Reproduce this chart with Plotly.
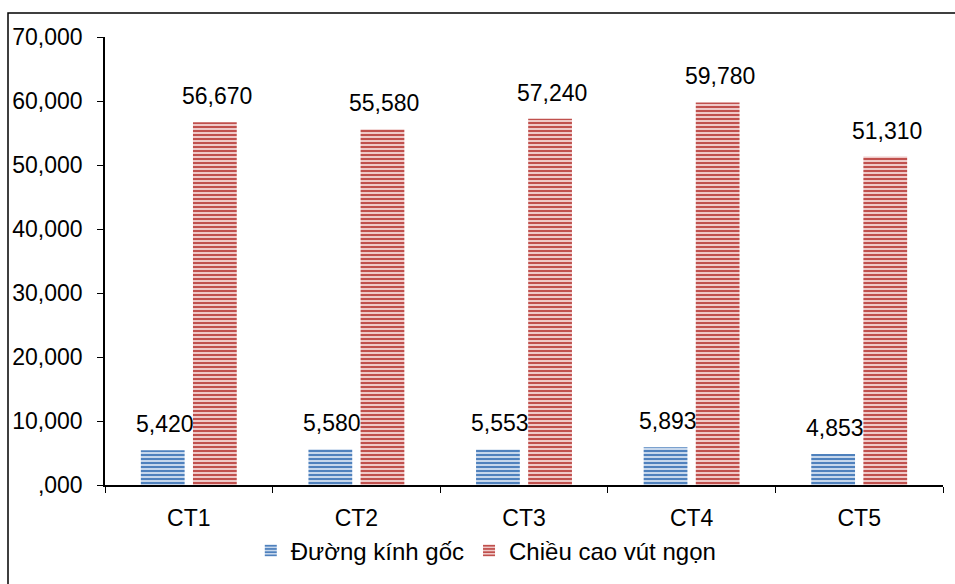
import plotly.graph_objects as go

categories = ["CT1", "CT2", "CT3", "CT4", "CT5"]
duong_kinh_goc = [5.420, 5.580, 5.553, 5.893, 4.853]
chieu_cao_vut_ngon = [56.670, 55.580, 57.240, 59.780, 51.310]
tick_vals = [0, 10, 20, 30, 40, 50, 60, 70]
tick_text = [",000", "10,000", "20,000", "30,000", "40,000", "50,000", "60,000", "70,000"]

FONT = "Liberation Sans, Arial, sans-serif"
FS = 23


def vn(v):
    return f"{v:.3f}".replace(".", ",")


BARGAP = 0.378
GROUPGAP = 0.16

fig = go.Figure()
fig.add_trace(go.Bar(
    name="Đường kính gốc", x=categories, y=duong_kinh_goc,
    marker=dict(color="#b9cde6", line=dict(width=0),
                pattern=dict(shape="-", fgcolor="#4f81bd", bgcolor="#c6d7ec",
                             size=4, solidity=0.5, fillmode="replace")),
))
fig.add_trace(go.Bar(
    name="Chiều cao vút ngọn", x=categories, y=chieu_cao_vut_ngon,
    marker=dict(color="#e6b9b8", line=dict(width=0),
                pattern=dict(shape="-", fgcolor="#c0504d", bgcolor="#efc9c8",
                             size=4, solidity=0.5, fillmode="replace")),
))

# Value labels above each bar
plot_w = 955 - 105 - 12
cat_w = plot_w / len(categories)
offset = cat_w * (1 - BARGAP) / 4
for series, sign in ((duong_kinh_goc, -1), (chieu_cao_vut_ngon, 1)):
    for c, v in zip(categories, series):
        fig.add_annotation(x=c, y=v, text=vn(v), showarrow=False,
                           xshift=sign * offset + 2, yshift=11, yanchor="bottom",
                           font=dict(family=FONT, size=FS, color="black"))

# Outer frame
fig.add_shape(type="rect", xref="paper", yref="paper",
              x0=(8 - 105) / plot_w, x1=(965 - 105) / plot_w,
              y0=-(600 - 485) / 448, y1=(485 - 13) / 448,
              line=dict(color="black", width=1.5), layer="below")

fig.update_layout(
    width=955, height=584,
    margin=dict(l=105, r=12, t=37, b=99, autoexpand=False),
    paper_bgcolor="white", plot_bgcolor="white",
    barmode="group", bargap=BARGAP, bargroupgap=GROUPGAP,
    font=dict(family=FONT, size=FS, color="black"),
    showlegend=True,
    legend=dict(orientation="h", x=0.455, xanchor="center", y=-0.097, yanchor="top",
                font=dict(family=FONT, size=24), itemwidth=30, tracegroupgap=0,
                itemsizing="constant"),
    xaxis=dict(showline=True, linecolor="black", linewidth=1.5, automargin=False,
               ticks="outside", tickson="boundaries", ticklen=6, tickcolor="black",
               tickfont=dict(family=FONT, size=FS), ticklabelstandoff=12),
    yaxis=dict(range=[0, 70], tickvals=tick_vals, ticktext=tick_text, automargin=False,
               showline=True, linecolor="black", linewidth=1.5, showgrid=False,
               zeroline=False, ticks="outside", ticklen=6, tickcolor="black",
               tickfont=dict(family=FONT, size=FS), ticklabelstandoff=10),
)

fig.write_html("out.html")
